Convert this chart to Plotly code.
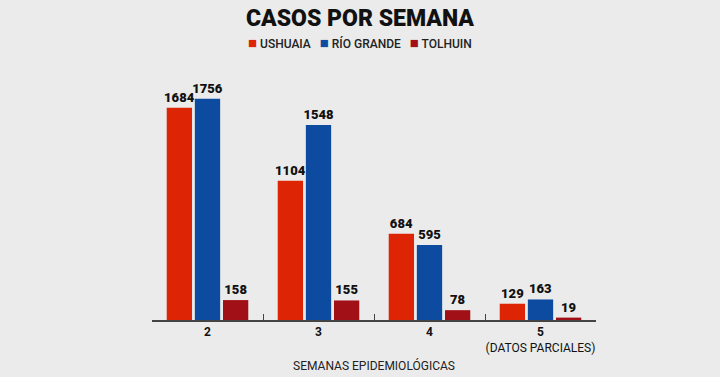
import plotly.graph_objects as go

categories = ["<b>2</b>", "<b>3</b>", "<b>4</b>", "<b>5</b><br>(DATOS PARCIALES)"]
ushuaia = [1684, 1104, 684, 129]
rio_grande = [1756, 1548, 595, 163]
tolhuin = [158, 155, 78, 19]

series = [
    ("USHUAIA", ushuaia, "#dd2404"),
    ("RÍO GRANDE", rio_grande, "#0c4ba0"),
    ("TOLHUIN", tolhuin, "#a10f17"),
]

fig = go.Figure()
for name, vals, color in series:
    fig.add_trace(go.Bar(
        x=categories, y=vals, name=name, marker_color=color,
        marker_line_width=0,
        text=[str(v) for v in vals], textposition="outside",
        constraintext="none",
        textfont=dict(family="Roboto", size=13, color="#111111", weight=900),
        cliponaxis=False, showlegend=False,
    ))

legend_text = "&nbsp;&nbsp;&nbsp;".join(
    f'<span style="color:{c};font-size:15px">■</span> {n}' for n, _, c in series
)
fig.add_annotation(
    text=legend_text, xref="paper", yref="paper",
    x=(360 - 152) / 444, y=1 + 17 / 260, xanchor="center", yanchor="middle",
    showarrow=False,
    font=dict(family="Roboto", size=12, color="#222222", weight=500),
)

fig.update_layout(
    width=720, height=377,
    paper_bgcolor="#ebebeb", plot_bgcolor="#ebebeb",
    margin=dict(l=152, r=124, t=60, b=57, autoexpand=False),
    barmode="group", bargap=0.24, bargroupgap=0.1,
    title=dict(text="CASOS POR SEMANA", x=0.5, xref="container", xanchor="center",
               y=1 - 18 / 377, yref="container", yanchor="middle",
               font=dict(family="Roboto", size=23, color="#111111", weight=900)),
    showlegend=False,
)
fig.update_xaxes(
    showline=True, linecolor="#444444", linewidth=1.5,
    ticks="inside", tickson="boundaries", ticklen=6, tickcolor="#444444",
    tickangle=0, automargin=False,
    tickfont=dict(family="Roboto", size=12, color="#111111"),
    title=dict(text="SEMANAS EPIDEMIOLÓGICAS", standoff=8,
               font=dict(family="Roboto", size=12, color="#222222")),
    showgrid=False,
)
fig.update_yaxes(range=[0, 2063], visible=False, showgrid=False, automargin=False)

fig.write_html(
    "out.html",
    config={"displayModeBar": False},
    post_script="document.body.style.margin='0';document.body.style.overflow='hidden';",
)
